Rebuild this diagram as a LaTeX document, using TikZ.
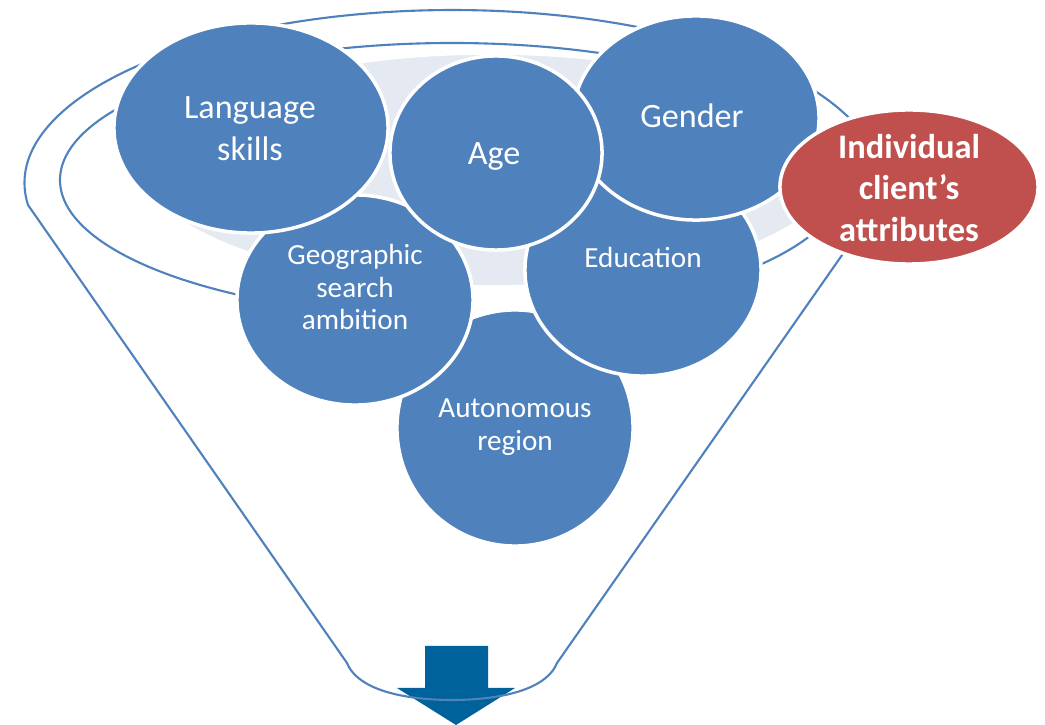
\documentclass[tikz,border=0pt]{standalone}
\usepackage{fontspec}
\setmainfont{Carlito}
\usetikzlibrary{shapes.geometric}
\definecolor{bubbleblue}{HTML}{4F81BD}
\definecolor{bubblered}{HTML}{C0504D}
\definecolor{rimfill}{HTML}{E4E9F2}
\definecolor{arrowblue}{HTML}{00629B}
\tikzset{
  rim/.style={draw=bubbleblue, line width=0.6pt},
  bubble/.style={ellipse, fill=bubbleblue, draw=white, line width=1pt, inner sep=0pt},
  bigtxt/.style={text=white, align=center, font=\fontsize{9.7}{11.9}\selectfont},
  smalltxt/.style={text=white, align=center, font=\fontsize{8.3}{9.3}\selectfont},
  redtxt/.style={text=white, align=center, font=\bfseries\fontsize{9.8}{11.7}\selectfont}
}
\begin{document}
\begin{tikzpicture}[x=0.01cm, y=-0.01cm]
  \useasboundingbox (0,0) rectangle (1045,725);
  \fill[arrowblue] (425,646) -- (488,646) -- (488,688) -- (515,688) -- (456,725) -- (397,688) -- (425,688) -- cycle;
  \draw[rim] (28,205) arc[start angle=172.7, end angle=367.3, x radius=428, y radius=173]
    -- (557,663) .. controls (544,695) and (484,700) .. (452,700)
    .. controls (420,700) and (360,695) .. (347,663) -- cycle;
  \draw[rim] (452,180) ellipse [x radius=392, y radius=137];
  \filldraw[fill=rimfill, draw=white, line width=1pt] (490,170) ellipse [x radius=343, y radius=117];
  \node[bubble, minimum width=2.36cm, minimum height=2.36cm] (region) at (515,428) {};
  \node[smalltxt] (regionlbl) at (515,427) {Autonomous\\region};
  \node[bubble, minimum width=2.36cm, minimum height=2.12cm] (edu) at (643,270) {};
  \node[smalltxt] (edulbl) at (643,257) {Education};
  \node[bubble, minimum width=2.36cm, minimum height=2.10cm] (geo) at (355,300) {};
  \node[smalltxt] (geolbl) at (355,287) {Geographic\\search\\ambition};
  \node[bubble, minimum width=2.74cm, minimum height=2.10cm] (lang) at (251,128) {};
  \node[bigtxt] (langlbl) at (250,129) {Language\\skills};
  \node[bubble, minimum width=2.46cm, minimum height=2.04cm] (gender) at (696,118) {};
  \node[bigtxt] (genderlbl) at (692,116) {Gender};
  \node[bubble, minimum width=2.12cm, minimum height=1.94cm] (age) at (496,153) {};
  \node[bigtxt] (agelbl) at (494,156) {Age};
  \node[bubble, fill=bubblered, minimum width=2.58cm, minimum height=1.54cm] (client) at (909,187) {};
  \node[redtxt] (clientlbl) at (909,188) {Individual\\client’s\\attributes};
\end{tikzpicture}
\end{document}
